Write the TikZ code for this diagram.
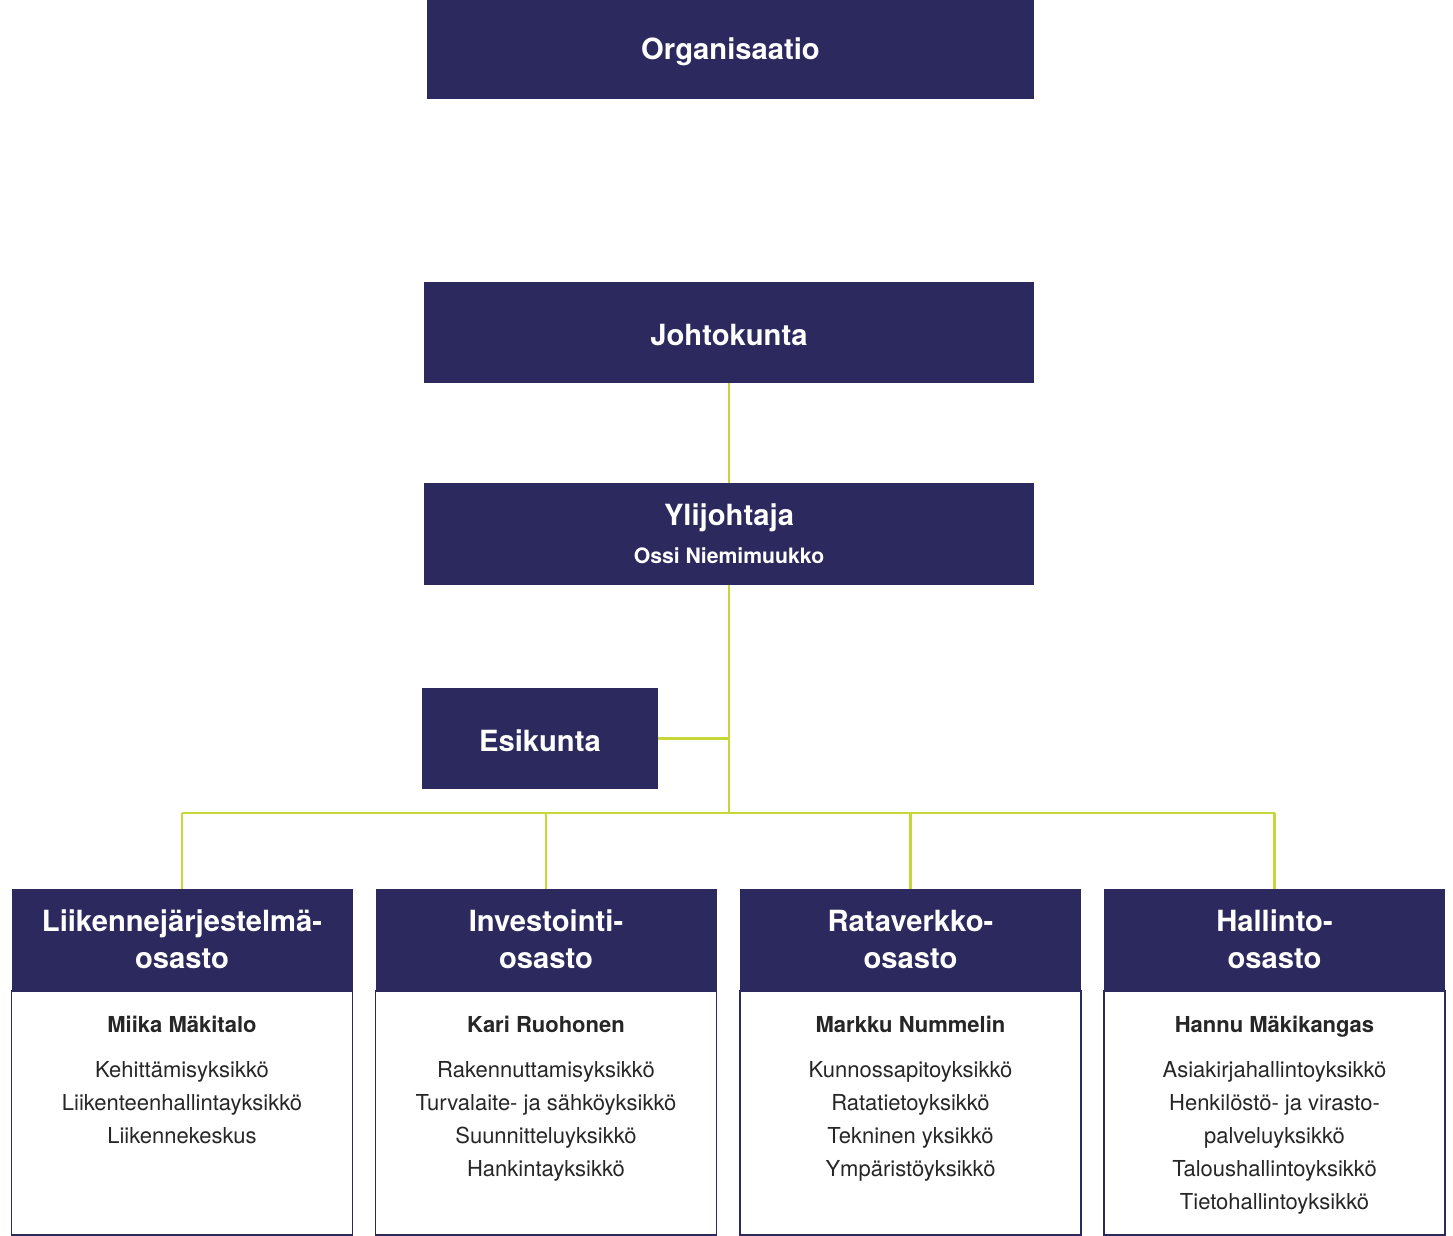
\documentclass[tikz,border=0pt]{standalone}
\usepackage{fontspec}
\setmainfont{TeX Gyre Heros}
\usetikzlibrary{positioning}
\definecolor{navy}{RGB}{43,41,94}
\definecolor{lime}{RGB}{198,216,56}
\tikzset{
  navybox/.style={fill=navy,text=white,font=\bfseries\fontsize{14.6}{18.5}\selectfont,
    align=center,inner sep=0pt,execute at begin node={\rule{0pt}{13.5pt}}},
  bodybox/.style={draw=navy,line width=0.8pt,fill=white,minimum width=170.5pt,
    minimum height=122pt,inner sep=0pt},
  unittext/.style={align=center,inner sep=0pt,text=black!85,
    font=\fontsize{11}{16.5}\selectfont},
  link/.style={lime,line width=1.4pt}
}
\begin{document}
\begin{tikzpicture}[x=0.5pt,y=-0.5pt]
  \useasboundingbox (0,0) rectangle (1453,1236);
  % top of the chart
  \node[navybox,minimum width=303.5pt,minimum height=49.5pt] (org) at (730.5,49.5) {Organisaatio};
  \node[navybox,minimum width=305pt,minimum height=50.5pt] (johto) at (729,332.5) {Johtokunta};
  \node[navybox,text depth=-3pt,minimum width=305pt,minimum height=51pt] (yli) at (729,534)
    {Ylijohtaja\\[0.5pt]{\fontsize{10.6}{12}\selectfont Ossi Niemimuukko}};
  \node[navybox,minimum width=118pt,minimum height=50.5pt] (esi) at (540,738.5) {Esikunta};
  \coordinate (bus) at (729,813);
  \draw[link] (johto.south) -- (yli.north);
  \draw[link] (yli.south) -- (bus);
  \draw[link] (esi.east) -- (esi.east -| bus);
  % departments
  \foreach \i/\cx/\hd/\nm/\units in {
    1/182/{Liikennejärjestelmä-\\osasto}/{Miika Mäkitalo}/{Kehittämisyksikkö\\Liikenteenhallintayksikkö\\Liikennekeskus},
    2/546/{Investointi-\\osasto}/{Kari Ruohonen}/{Rakennuttamisyksikkö\\Turvalaite- ja sähköyksikkö\\Suunnitteluyksikkö\\Hankintayksikkö},
    3/910.5/{Rataverkko-\\osasto}/{Markku Nummelin}/{Kunnossapitoyksikkö\\Ratatietoyksikkö\\Tekninen yksikkö\\Ympäristöyksikkö},
    4/1274.5/{Hallinto-\\osasto}/{Hannu Mäkikangas}/{Asiakirjahallintoyksikkö\\Henkilöstö- ja virasto-\\palveluyksikkö\\Taloushallintoyksikkö\\Tietohallintoyksikkö}}
  {
    \node[navybox,minimum width=170.5pt,minimum height=50.5pt] (hd\i) at (\cx,939.5) {\hd};
    \node[bodybox,below=0pt of hd\i] (bx\i) {};
    \node[unittext,below=12.5pt of hd\i] (tx\i) {\textbf{\nm}\\[6pt]\units};
    \draw[link] (hd\i.north) -- (hd\i.north |- bus);
  }
  \draw[link] (hd1.north |- bus) -- (hd4.north |- bus);
\end{tikzpicture}
\end{document}
